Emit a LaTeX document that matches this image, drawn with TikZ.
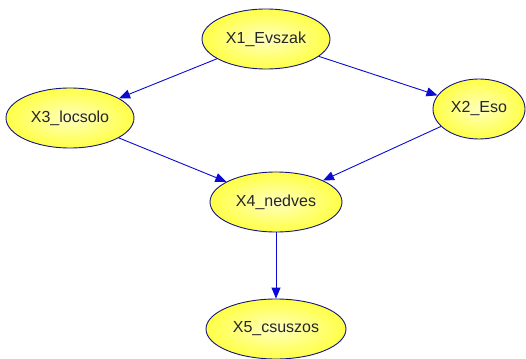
\documentclass[tikz,border=0pt]{standalone}
\usepackage{fontspec}
\setmainfont{Liberation Sans}
\usetikzlibrary{shapes.geometric,arrows.meta}
\definecolor{nodeborder}{RGB}{20,20,130}
\definecolor{edgeblue}{RGB}{10,10,210}
\definecolor{yin}{RGB}{255,255,190}
\definecolor{yout}{RGB}{255,255,70}
\tikzset{
  varnode/.style={ellipse, draw=nodeborder, line width=0.9pt, inner color=yin, outer color=yout,
    minimum height=60pt, font=\fontsize{16}{18}\selectfont, text=black!85, inner sep=0pt},
  edge/.style={draw=edgeblue, line width=0.9pt, -{Triangle[length=11pt,width=9pt]}}
}
\begin{document}
\begin{tikzpicture}[x=1pt,y=-1pt]
\useasboundingbox (0,0) rectangle (526,358);
\node[varnode, minimum width=128pt] (x1) at (266,39) {X1\_Evszak};
\node[varnode, minimum width=128pt] (x3) at (70,118) {X3\_locsolo};
\node[varnode, minimum width=92pt] (x2) at (479,109) {X2\_Eso};
\node[varnode, minimum width=132pt] (x4) at (276,202) {X4\_nedves};
\node[varnode, minimum width=140pt] (x5) at (276,329) {X5\_csuszos};
\draw[edge] (x1) -- (x3);
\draw[edge] (x1) -- (x2);
\draw[edge] (x3) -- (x4);
\draw[edge] (x2) -- (x4);
\draw[edge] (x4) -- (x5);
\end{tikzpicture}
\end{document}
